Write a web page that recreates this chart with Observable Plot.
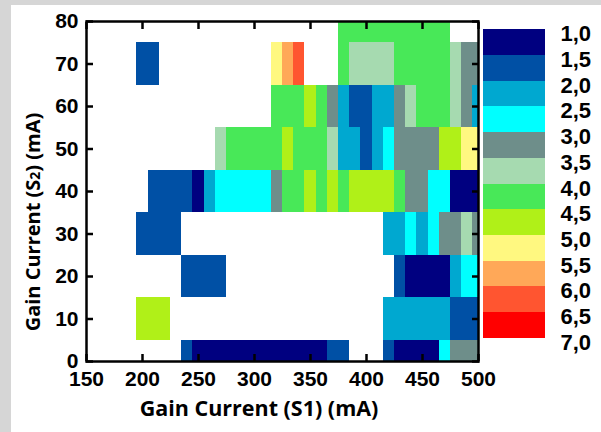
<!DOCTYPE html>
<html><head><meta charset="utf-8">
<script src="https://cdn.jsdelivr.net/npm/d3@7"></script>
<script src="https://cdn.jsdelivr.net/npm/@observablehq/plot@0.6"></script>
<style>
html,body{margin:0;padding:0;}
body{width:601px;height:432px;background:#d6d6d6;position:relative;overflow:hidden;font-family:"Liberation Sans",Arial,sans-serif;}
#panel{position:absolute;left:11px;top:5px;right:0;bottom:0;background:#fff;}
#chart{position:absolute;left:0;top:0;}
#legend{position:absolute;left:0;top:0;width:601px;height:432px;}
</style></head><body>
<div id="panel"></div>
<div id="chart"></div>
<div id="legend"></div>
<script>
// Gain current S1 (mA) columns and S2 (mA) rows
const xValues = [200,210,220,230,240,250,260,270,280,290,300,310,320,330,340,350,360,370,380,390,400,410,420,430,440,450,460,470,480,490,500];
const yValues = [0,10,20,30,40,50,60,70,80];
const _ = null;
const row0  = [_,_,_,_,1.5,1,1,1,1,1,1,1,1,1,1,1,1,1.5,1.5,_,_,_,1.5,1,1,1,1,2.5,3,3,3];
const row10 = [4.5,4.5,4.5,_,_,_,_,_,_,_,_,_,_,_,_,_,_,_,_,_,_,_,2,2,2,2,2,2,1.5,1.5,1.5];
const row20 = [_,_,_,_,1.5,1.5,1.5,1.5,_,_,_,_,_,_,_,_,_,_,_,_,_,_,_,1.5,1,1,1,1,2,2.5,2.5];
const row30 = [1.5,1.5,1.5,1.5,_,_,_,_,_,_,_,_,_,_,_,_,_,_,_,_,_,_,2,2,2.5,2,2.5,3,3,3.5,3];
const row40 = [_,1.5,1.5,1.5,1.5,1,2,2.5,2.5,2.5,2.5,2.5,3,4,4,4.5,4,4.5,4,4.5,4.5,4.5,4.5,4,3,3,2.5,2.5,1,1,1];
const row50 = [_,_,_,_,_,_,_,3.5,4,4,4,4,4,4.5,4,4,4,3.5,2,2,1.5,2,2.5,3,3,3,3,4.5,4.5,5,5];
const row60 = [_,_,_,_,_,_,_,_,_,_,_,_,4,4,4,4.5,4,3,2,1.5,1.5,2,2,3,3.5,4,4,4,3.5,3,2];
const row70 = [1.5,1.5,_,_,_,_,_,_,_,_,_,_,5,5.5,6,_,_,_,4,3.5,3.5,3.5,3.5,4,4,4,4,4,3.5,3,3];
const row80 = [_,_,_,_,_,_,_,_,_,_,_,_,_,_,_,_,_,_,4,4,4,4,4,4,4,4,4,4,_,_,_];
const rows = [row0,row10,row20,row30,row40,row50,row60,row70,row80];

// colour classes (threshold legend)
const thresholds = [1.5,2.0,2.5,3.0,3.5,4.0,4.5,5.0,5.5,6.0,6.5];
const colors = ["#000080","#0050a5","#00a8d0","#00ffff","#6e8e8a","#a6dab0","#48e858","#b0f018","#fff880","#ffa858","#ff5530","#ff0000"];
const legendLabels = ["1,0","1,5","2,0","2,5","3,0","3,5","4,0","4,5","5,0","5,5","6,0","6,5","7,0"];
const xTicks = [150,200,250,300,350,400,450,500];
const yTicks = [0,10,20,30,40,50,60,70,80];

const cells = [];
rows.forEach((r, j) => r.forEach((v, i) => { if (v != null) cells.push({x: xValues[i], y: yValues[j], v}); }));

const chart = Plot.plot({
  width: 601, height: 432,
  marginLeft: 86, marginRight: 123, marginTop: 21, marginBottom: 71,
  style: {background: "transparent", fontFamily: "'Liberation Sans', Arial, sans-serif", fontSize: "21px", fontWeight: "bold", color: "black"},
  x: {domain: [150, 500]},
  y: {domain: [0, 80]},
  color: {type: "threshold", domain: thresholds, range: colors},
  marks: [
    Plot.rect(cells, {x1: d => d.x - 5, x2: d => d.x + 5, y1: d => d.y - 5, y2: d => d.y + 5, fill: "v", clip: true, shapeRendering: "crispEdges"}),
    Plot.axisX({anchor: "bottom", ticks: xTicks, tickSize: 0, tickPadding: 10, label: null}),
    Plot.axisX({anchor: "bottom", ticks: xTicks, tickSize: -7, tickFormat: () => "", strokeWidth: 2.5, label: null}),
    Plot.axisX({anchor: "top", ticks: xTicks, tickSize: -7, tickFormat: () => "", strokeWidth: 2.5, label: null}),
    Plot.axisY({anchor: "left", ticks: yTicks, tickSize: 0, tickPadding: 8, label: null}),
    Plot.axisY({anchor: "left", ticks: yTicks, tickSize: -7, tickFormat: () => "", strokeWidth: 2.5, label: null}),
    Plot.axisY({anchor: "right", ticks: yTicks, tickSize: -7, tickFormat: () => "", strokeWidth: 2.5, label: null}),
    Plot.frame({stroke: "black", strokeWidth: 2.5})
  ]
});
document.getElementById("chart").appendChild(chart);

const svg = d3.select(chart);
svg.append("text")
  .attr("x", 259).attr("y", 416)
  .attr("text-anchor", "middle")
  .style("font-family", "'Open Sans', Lato, sans-serif").style("font-size", "21.5px").style("font-weight", "bold")
  .text("Gain Current (S1) (mA)");
const yl = svg.append("text")
  .attr("transform", "translate(40,222) rotate(-90)")
  .attr("text-anchor", "middle")
  .style("font-family", "'Open Sans', Lato, sans-serif").style("font-size", "20px").style("font-weight", "bold");
yl.append("tspan").text("Gain Current (S");
yl.append("tspan").attr("font-size", "14px").text("2");
yl.append("tspan").text(") (mA)");

// vertical threshold legend
const scaleRange = chart.scale("color").range;
const lg = d3.select("#legend");
const bh = 25.7, top0 = 29.3;
scaleRange.forEach((c, i) => {
  lg.append("div").style("position", "absolute").style("left", "483px").style("top", (top0 + i * bh) + "px")
    .style("width", "62px").style("height", (bh + 0.5) + "px").style("background", c);
});
legendLabels.forEach((t, i) => {
  lg.append("div").style("position", "absolute").style("left", "530px").style("top", (top0 + i * bh + 5 - 12) + "px")
    .style("width", "61px").style("text-align", "right").style("line-height", "24px")
    .style("font-size", "22px").style("font-weight", "bold").text(t);
});
</script>
</body></html>
